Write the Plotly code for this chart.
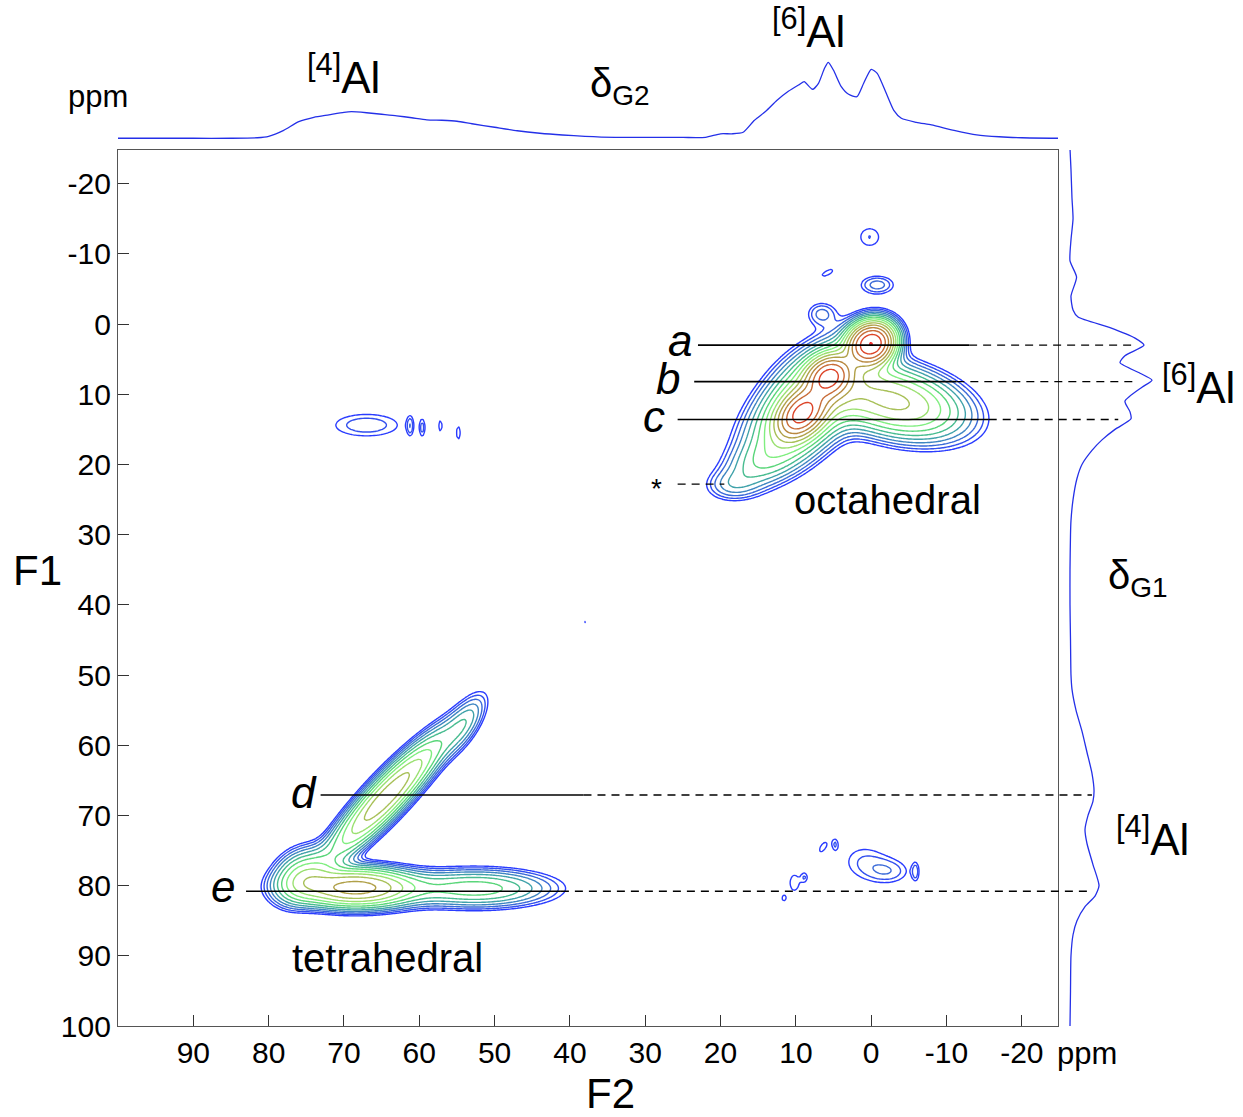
import numpy as np
import plotly.graph_objects as go

# ---------------- data ----------------
# 2D 27Al MQMAS map, described as a set of resolved components
# (F2 centre, F1 centre, relative height, width along / across the main axis, axis angle)
# octahedral sites a, b, c, their ridge, the broad lobe and the low-field tail
oct_f2 = [0.0, 5.6, 9.2, 8.0, -3.0, 14.0, 18.5]
oct_f1 = [2.8, 7.5, 12.8, 11.0, 11.0, 19.5, 23.0]
oct_amp = [0.80, 0.55, 0.55, 0.20, 0.20, 0.05, 0.02]
oct_wa = [1.8, 1.8, 2.2, 6.0, 5.5, 4.0, 2.2]
oct_wp = [1.6, 1.5, 1.5, 3.0, 2.8, 2.0, 1.3]
oct_angle = [45, 45, 50, 48, -15, 30, 0]

# tetrahedral sites d, e (plus the junction of the two arms and the upper tip)
tet_f2 = [68.5, 52.5, 64.3, 75.5, 54.0]
tet_f1 = [80.3, 80.4, 67.3, 78.5, 57.0]
tet_amp = [0.29, 0.09, 0.23, 0.10, 0.04]
tet_wa = [4.6, 6.0, 6.8, 2.5, 3.0]
tet_wp = [1.6, 1.6, 1.45, 2.0, 1.2]
tet_angle = [0, 0, 49, 44, 60]

# weak isolated signals near the noise floor
weak_f2 = [67.0, 61.2, 59.6, 57.2, 54.8,
           0.2, 5.8, -0.8, 6.6, 37.9,
           1.0, -2.5, 6.4, 4.8, 10.2, 8.8, -5.9, 11.6]
weak_f1 = [14.4, 14.5, 14.8, 14.5, 15.5,
           -12.4, -7.3, -5.6, -1.5, 42.4,
           76.5, 78.0, 74.5, 74.1, 79.6, 78.8, 78.0, 81.8]
weak_amp = [0.021, 0.016, 0.016, 0.015, 0.016,
            0.017, 0.015, 0.026, 0.024, 0.0135,
            0.016, 0.018, 0.015, 0.015, 0.016, 0.0145, 0.016, 0.014]
weak_wa = [4.0, 1.2, 1.2, 1.0, 1.2,
           1.5, 1.3, 1.7, 1.4, 0.6,
           2.6, 2.2, 1.0, 0.8, 1.5, 0.7, 1.2, 0.6]
weak_wp = [1.5, 0.35, 0.35, 0.3, 0.35,
           1.5, 0.5, 1.0, 1.2, 0.3,
           2.2, 1.4, 0.45, 0.4, 0.8, 0.4, 0.4, 0.4]
weak_angle = [0, 90, 90, 90, 90,
              0, 30, 0, 0, 90,
              0, 0, 60, 90, 90, 90, 90, 90]

# F2 (horizontal) projection: chemical shift (ppm) and relative intensity (%)
top_f2 = [100, 90, 85, 81.5, 80, 78, 76, 74, 72, 70,
          69, 67, 65, 63, 61, 59, 57, 55, 53, 50,
          47, 44, 41, 38, 34, 30, 25, 22, 20, 18.5,
          17, 15.5, 14, 12.5, 11, 9.5, 8.9, 7.8, 7, 6.2,
          5.7, 5, 4, 3, 1.9, 1, 0, -0.8, -2, -3,
          -4, -6, -8, -11, -14, -17, -20, -25]
top_int = [0, 0, 0, 0.7, 2.6, 10.5, 21.8, 27.6, 30.9, 34.2,
           35, 33.6, 31.6, 29.6, 27, 24.3, 23.7, 22.4, 19.1, 14.5,
           9.9, 6.6, 4.3, 2.6, 1.3, 1.3, 1.1, 1.3, 5.9, 5.9,
           7.9, 23.7, 35.5, 50, 61.8, 71, 74.5, 64.5, 72.4, 92.1,
           100, 89.5, 68.4, 57.9, 54.7, 72.4, 90.8, 85.5, 59.2, 36.8,
           26.3, 21, 17.5, 10.5, 4.6, 2, 0.7, 0]

# F1 (vertical) projection
side_f1 = [-25, -22, -18, -15, -12, -9, -6.7, -4, -2, -1,
           0.5, 2, 3, 4.5, 5.5, 7, 8, 9, 11, 12.5,
           13.5, 15, 16.5, 18, 20, 22, 25, 28, 30, 35,
           40, 45, 50, 52, 55, 58, 61, 64, 66.5, 68,
           70, 72, 74, 77, 80, 81.5, 83, 85, 87, 90,
           95, 100]
side_int = [0, 1.2, 2.4, 3.7, 1.2, 0, 8, 1.2, 3.7, 9.8,
            48.8, 79.3, 90.2, 67, 61, 85.4, 100, 87.8, 67, 73.2,
            74.4, 54.9, 39, 26.8, 14.6, 8.5, 3.7, 1.2, 0.6, 0,
            0, 0.6, 1.2, 2.4, 7.3, 14.6, 20.7, 26.8, 29.3, 28,
            22, 18.3, 20.7, 28, 35.4, 30.5, 18.3, 8.5, 3.7, 1.2,
            0.6, 0]

# marked F1 positions of the resolved sites
site_labels = ["a", "b", "c", "d", "e"]
site_f1 = [3.0, 8.2, 13.6, 67.1, 80.8]
spinning_sideband_f1 = 22.8

x_ticks = [90, 80, 70, 60, 50, 40, 30, 20, 10, 0, -10, -20]
y_ticks = [-20, -10, 0, 10, 20, 30, 40, 50, 60, 70, 80, 90, 100]

# ---------------- geometry ----------------
W, H = 1243, 1117
ML, MR, MT, MB = 118, 20, 0, 91
PW, PH = W - ML - MR, H - MT - MB
FONT = "Liberation Sans, Arial, sans-serif"
X_RANGE = [100.0, -24.8]
Y_RANGE = [100.0, -24.8]


def px(x):
    return (x - ML) / PW


def py(y):
    return (MT + PH - y) / PH


main_xdom = [0, px(1058)]
main_ydom = [0, py(150)]


def f2_paper(ppm):
    frac = (X_RANGE[0] - ppm) / (X_RANGE[0] - X_RANGE[1])
    return main_xdom[0] + frac * (main_xdom[1] - main_xdom[0])


# ---------------- 2D intensity map ----------------
f2 = np.arange(-26, 101, 0.25)
f1 = np.arange(-26, 101, 0.25)
G2, G1 = np.meshgrid(f2, f1)
intensity = np.zeros_like(G2)
groups = [(oct_f2, oct_f1, oct_amp, oct_wa, oct_wp, oct_angle),
          (tet_f2, tet_f1, tet_amp, tet_wa, tet_wp, tet_angle),
          (weak_f2, weak_f1, weak_amp, weak_wa, weak_wp, weak_angle)]
for g in groups:
    for c2, c1, amp, wa, wp, ang in zip(*g):
        t = np.deg2rad(ang)
        d2, d1 = G2 - c2, G1 - c1
        along = d2 * np.cos(t) + d1 * np.sin(t)
        across = -d2 * np.sin(t) + d1 * np.cos(t)
        intensity += amp * np.exp(-along**2 / (2 * wa**2)
                                  - across**2 / (2 * wp**2))
logz = np.log10(intensity + 1e-4)

lev_start, lev_step, n_lev = -1.9, 0.13, 15
lev_end = lev_start + lev_step * (n_lev - 1)
level_colors = ["#2a3cff", "#3350ee", "#3a6ad8", "#3f86c2", "#40a2aa",
                "#48bc90", "#5ad67a", "#80ee80", "#9ae070", "#a8c058",
                "#b0a048", "#b88840", "#c86c38", "#dc4428", "#f01010"]
cscale = [[i / (n_lev - 1), c] for i, c in enumerate(level_colors)]

fig = go.Figure()
fig.add_trace(go.Contour(
    x=f2, y=f1, z=logz, xaxis="x", yaxis="y",
    contours=dict(start=lev_start, end=lev_end + 1e-6, size=lev_step,
                  coloring="lines"),
    colorscale=cscale, zmin=lev_start, zmax=lev_end,
    line=dict(width=1.4, smoothing=1.0), showscale=False, hoverinfo="skip"))

fig.add_trace(go.Scatter(
    x=top_f2, y=top_int, xaxis="x", yaxis="y2", mode="lines",
    line=dict(color="#2430e8", width=1.3, shape="spline", smoothing=0.6),
    hoverinfo="skip"))

fig.add_trace(go.Scatter(
    x=side_int, y=side_f1, xaxis="x3", yaxis="y", mode="lines",
    line=dict(color="#2430e8", width=1.3, shape="spline", smoothing=0.6),
    hoverinfo="skip"))

# ---------------- guide lines ----------------
solid_from = [23.0, 23.5, 25.7, 73.1, 83.0]
solid_to = [-13.0, -11.3, -15.6, 38.2, 41.2]
dash_to = [-35.2, -35.2, -32.8, -29.3, -29.3]
shapes = []
for yv, s0, s1, d1 in zip(site_f1, solid_from, solid_to, dash_to):
    shapes.append(dict(type="line", xref="paper", yref="y",
                       x0=f2_paper(s0), x1=f2_paper(s1), y0=yv, y1=yv,
                       line=dict(color="black", width=1.6)))
    shapes.append(dict(type="line", xref="paper", yref="y",
                       x0=f2_paper(s1), x1=f2_paper(d1), y0=yv, y1=yv,
                       line=dict(color="black", width=1.4, dash="8px,6px")))
shapes.append(dict(type="line", xref="paper", yref="y",
                   x0=f2_paper(25.7), x1=f2_paper(19.5),
                   y0=spinning_sideband_f1, y1=spinning_sideband_f1,
                   line=dict(color="black", width=1.4, dash="8px,6px")))

# ---------------- text ----------------
ann = []


def txt(x, y, s, size, italic=False, anchor="center"):
    ann.append(dict(xref="paper", yref="paper", x=px(x), y=py(y), text=s,
                    showarrow=False, xanchor=anchor, yanchor="middle",
                    font=dict(family=FONT, size=size, color="black",
                              style="italic" if italic else "normal")))


site_label_xy = [(680, 340), (668, 378), (654, 416), (304, 792), (223, 886)]
for lab, (lx, ly) in zip(site_labels, site_label_xy):
    txt(lx, ly, lab, 44, italic=True)
txt(656, 488, "*", 28)
txt(887, 500, "octahedral", 40)
txt(387, 958, "tetrahedral", 40)
txt(38, 570, "F1", 42)
txt(610, 1093, "F2", 42)
txt(1087, 1053, "ppm", 31)
txt(98, 96, "ppm", 31)
txt(343, 74, "<sup>[4]</sup>Al", 44)
txt(808, 28, "<sup>[6]</sup>Al", 44)
txt(620, 86, "δ<sub>G2</sub>", 40)
txt(1198, 384, "<sup>[6]</sup>Al", 44)
txt(1138, 578, "δ<sub>G1</sub>", 40)
txt(1152, 836, "<sup>[4]</sup>Al", 44)

axis_common = dict(showgrid=False, zeroline=False, showline=True,
                   linecolor="#555", linewidth=1.2, mirror=True,
                   ticks="inside", ticklen=11, tickwidth=1, tickcolor="#333",
                   tickfont=dict(family=FONT, size=30, color="black"))

fig.update_layout(
    width=W, height=H, margin=dict(l=ML, r=MR, t=MT, b=MB),
    paper_bgcolor="white", plot_bgcolor="white", showlegend=False,
    xaxis=dict(domain=main_xdom, range=X_RANGE, anchor="y",
               tickvals=x_ticks, ticktext=[str(v) for v in x_ticks],
               **axis_common),
    yaxis=dict(domain=main_ydom, range=Y_RANGE, anchor="x",
               tickvals=y_ticks, ticktext=[str(v) for v in y_ticks],
               **axis_common),
    yaxis2=dict(domain=[py(148), py(18)], range=[-12.8, 158.3], anchor="x",
                visible=False),
    xaxis3=dict(domain=[px(1062), px(1170)], range=[-9.76, 121.95],
                anchor="y", visible=False),
    shapes=shapes, annotations=ann,
)

fig.write_html("out.html")
